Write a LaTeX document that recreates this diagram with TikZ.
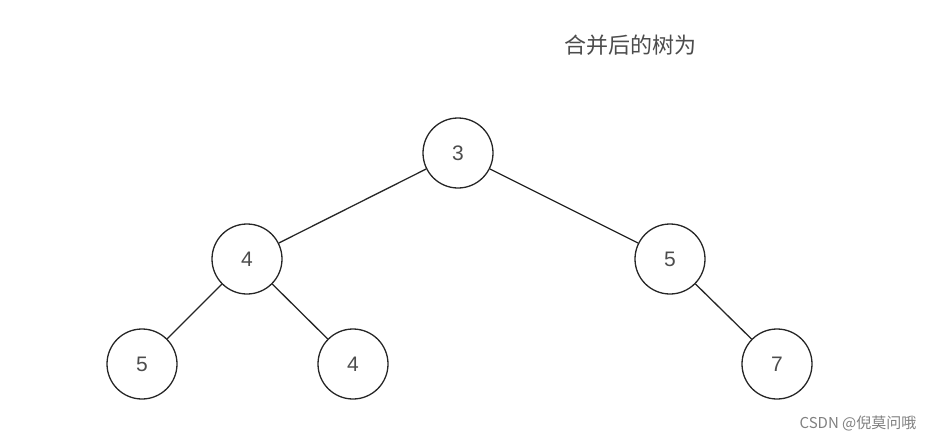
\documentclass[tikz,border=0pt]{standalone}
\usepackage{fontspec}
\setmainfont{Liberation Sans}
\newfontfamily\cjk{Noto Sans CJK SC}
\begin{document}
\begin{tikzpicture}[x=1pt,y=-1pt,
  tn/.style={circle,draw=black!85,line width=1.3pt,minimum size=70pt,inner sep=0pt,font=\fontsize{21}{24}\selectfont,text=black!70},
  ed/.style={draw=black!85,line width=1.3pt}]
\useasboundingbox (0,0) rectangle (950,442);
\node[font=\cjk\fontsize{22}{26}\selectfont,text=black!70] (t) at (630,45) {合并后的树为};
\node[tn] (a) at (458,153) {3};
\node[tn] (b) at (247,259) {4};
\node[tn] (c) at (670,259) {5};
\node[tn] (d) at (142,364) {5};
\node[tn] (e) at (353,364) {4};
\node[tn] (f) at (777,364) {7};
\draw[ed] (a)--(b); \draw[ed] (a)--(c);
\draw[ed] (b)--(d); \draw[ed] (b)--(e); \draw[ed] (c)--(f);
\node[font=\cjk\fontsize{15}{18}\selectfont,text=black!50] (w) at (858,423) {CSDN @倪莫问哦};
\end{tikzpicture}
\end{document}
